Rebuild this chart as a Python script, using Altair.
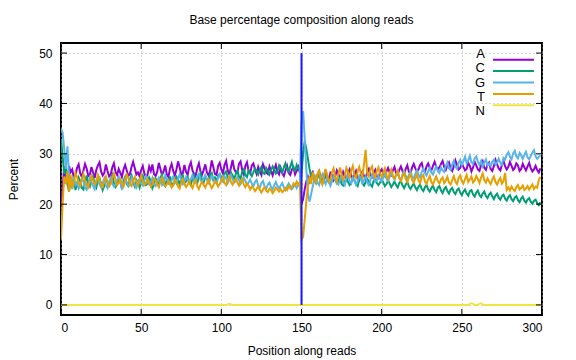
import altair as alt
import pandas as pd

bases = ["A", "C", "G", "T", "N"]
colors = ["#9400d3", "#009e73", "#56b4e9", "#e69f00", "#f0e442"]
x_ticks = [0, 50, 100, 150, 200, 250, 300]
y_ticks = [0, 10, 20, 30, 40, 50]
read_break = [150]
break_lo = [0]
break_hi = [50]

A = [
    20.0, 23.0, 27.5, 25.0, 24.0, 27.6, 26.4, 26.9, 25.3, 25.8,
    27.2, 27.9, 26.1, 25.4, 26.7, 28.0, 27.1, 25.6, 25.9, 27.4,
    26.3, 25.2, 26.8, 27.7, 28.3, 26.5, 25.7, 26.2, 27.9, 26.6,
    25.5, 25.9, 27.3, 28.1, 26.4, 25.8, 27.0, 26.2, 25.4, 26.9,
    27.8, 26.7, 25.6, 26.0, 27.4, 28.4, 27.2, 25.9, 26.3, 25.5,
    26.8, 27.6, 26.1, 25.3, 25.9, 27.5, 26.6, 27.9, 26.0, 25.6,
    26.4, 28.2, 27.0, 25.8, 26.5, 27.7, 25.9, 25.4, 27.1, 28.0,
    26.6, 25.7, 26.9, 28.5, 27.3, 25.9, 26.2, 27.8, 26.4, 25.8,
    27.5, 28.3, 26.7, 26.0, 25.6, 27.2, 28.1, 26.5, 25.9, 26.8,
    27.9, 26.3, 25.7, 26.6, 28.7, 27.4, 26.0, 25.8, 27.6, 28.2,
    26.9, 26.1, 27.8, 28.6, 26.7, 25.9, 27.3, 28.8, 27.0, 26.4,
    26.2, 28.0, 28.5, 26.8, 25.9, 27.6, 28.3, 26.6, 26.1, 27.7,
    28.1, 26.9, 26.0, 27.4, 26.5, 25.8, 27.9, 27.1, 26.3, 26.0,
    27.5, 26.6, 25.7, 26.9, 27.8, 26.4, 25.9, 27.2, 26.1, 25.6,
    26.7, 27.6, 26.2, 25.8, 26.9, 27.3, 25.9, 26.6, 27.4, 26.2,
    20.0, 21.0, 23.0, 24.5, 25.5, 24.6, 25.9, 26.4, 25.1, 24.8,
    25.7, 26.5, 25.3, 24.7, 25.6, 26.8, 25.4, 24.9, 26.2, 25.8,
    24.8, 25.5, 26.7, 26.0, 25.2, 25.0, 26.4, 25.6, 24.9, 26.1,
    26.9, 25.7, 25.1, 25.8, 26.6, 25.3, 24.8, 25.9, 26.5, 25.6,
    25.0, 26.3, 27.0, 25.9, 25.4, 26.2, 26.8, 25.5, 25.2, 26.4,
    26.9, 26.1, 25.6, 26.5, 27.2, 26.3, 25.8, 26.7, 27.4, 26.2,
    25.9, 26.8, 27.5, 26.6, 26.1, 27.0, 27.7, 26.4, 26.2, 27.3,
    28.0, 27.1, 26.5, 26.9, 27.8, 28.2, 26.8, 26.4, 27.5, 28.1,
    27.2, 26.7, 27.6, 28.4, 27.5, 26.9, 27.3, 28.0, 28.6, 27.4,
    26.8, 27.7, 28.3, 27.1, 26.6, 27.5, 28.7, 27.8, 26.9, 27.2,
    28.1, 27.4, 26.7, 27.0, 28.2, 27.6, 26.5, 27.3, 28.4, 27.7,
    26.9, 26.6, 27.8, 28.5, 27.2, 26.8, 27.9, 28.3, 27.0, 26.6,
    27.6, 28.8, 27.9, 27.1, 26.7, 27.8, 28.6, 27.5, 26.9, 27.4,
    28.4, 27.6, 26.8, 27.2, 28.1, 27.7, 26.6, 27.0, 28.0, 27.3,
    26.7, 27.5, 28.2, 27.1, 26.5, 26.9, 27.6, 26.8, 26.3, 27.1,
]

C = [
    33.0, 29.5, 26.0, 27.5, 24.0, 22.5, 24.8, 23.2, 25.5, 22.8,
    24.1, 25.3, 24.6, 23.2, 22.9, 24.4, 25.7, 24.0, 23.5, 24.8,
    25.5, 23.9, 23.3, 24.7, 25.2, 24.1, 22.8, 23.6, 25.0, 24.3,
    23.7, 24.9, 25.8, 24.2, 23.4, 23.9, 25.1, 24.5, 23.0, 24.6,
    25.4, 24.0, 23.6, 25.0, 25.7, 24.3, 23.5, 24.8, 24.2, 23.3,
    24.7, 25.6, 24.4, 23.8, 24.1, 25.3, 24.6, 23.2, 24.0, 25.1,
    24.5, 23.7, 25.2, 25.9, 24.0, 23.6, 24.9, 24.3, 25.5, 24.1,
    23.8, 24.6, 25.4, 24.8, 23.9, 25.0, 25.7, 24.2, 24.5, 25.3,
    24.4, 23.9, 25.1, 25.8, 24.6, 24.2, 25.5, 26.1, 24.7, 24.3,
    25.6, 25.0, 24.4, 25.9, 26.2, 24.8, 25.3, 24.5, 25.7, 26.0,
    25.4, 24.9, 26.1, 26.5, 25.2, 25.0, 26.3, 25.7, 24.9, 26.0,
    26.6, 25.5, 25.1, 26.4, 26.9, 25.8, 25.4, 26.7, 26.2, 25.6,
    26.3, 27.1, 26.5, 25.9, 26.8, 27.4, 26.2, 26.0, 27.2, 26.6,
    25.9, 26.7, 27.5, 26.9, 26.1, 26.5, 27.7, 27.0, 26.3, 27.3,
    28.1, 26.9, 26.4, 27.5, 28.4, 27.0, 26.6, 27.8, 27.1, 26.7,
    26.0, 30.0, 32.5, 31.0, 29.0, 27.0, 25.5, 25.9, 24.6, 24.2,
    25.3, 25.8, 24.7, 24.1, 24.9, 25.6, 25.0, 24.3, 23.9, 24.8,
    25.5, 24.9, 24.2, 24.6, 25.3, 24.0, 23.7, 24.5, 25.1, 24.4,
    23.8, 24.3, 25.2, 24.7, 24.0, 23.6, 24.9, 25.4, 24.1, 23.7,
    24.4, 25.0, 24.5, 23.9, 23.5, 24.6, 25.1, 24.2, 23.8, 24.3,
    24.9, 24.3, 23.6, 24.0, 24.7, 24.1, 23.4, 23.9, 24.5, 23.8,
    23.3, 24.2, 24.6, 23.7, 23.2, 23.9, 24.4, 23.5, 23.0, 23.6,
    24.1, 23.3, 22.8, 23.5, 23.9, 23.0, 22.6, 23.4, 23.8, 22.9,
    22.5, 23.2, 23.7, 22.8, 22.4, 23.3, 23.6, 22.7, 22.2, 23.0,
    23.4, 22.6, 22.1, 22.9, 23.2, 22.4, 22.0, 22.8, 23.1, 22.3,
    21.8, 22.5, 22.9, 22.1, 21.7, 22.6, 22.8, 21.9, 21.5, 22.3,
    22.7, 21.8, 21.4, 22.1, 22.5, 21.6, 21.2, 21.9, 22.3, 21.5,
    21.0, 21.7, 22.1, 21.3, 20.9, 21.6, 21.9, 21.1, 20.7, 21.4,
    21.8, 21.0, 20.6, 21.3, 21.6, 20.8, 20.4, 21.1, 21.5, 20.7,
    20.3, 20.9, 21.2, 20.5, 20.1, 20.7, 20.9, 20.2, 19.8, 20.4,
]

G = [
    35.0, 34.2, 31.0, 27.0, 31.5, 26.0, 24.5, 23.0, 25.4, 23.8,
    24.2, 23.1, 23.8, 25.0, 24.6, 23.3, 22.9, 24.1, 25.3, 24.4,
    23.6, 23.0, 24.7, 25.4, 24.0, 23.4, 24.2, 25.1, 23.8, 23.2,
    24.5, 25.2, 24.1, 23.5, 23.9, 24.8, 25.5, 24.3, 23.1, 23.7,
    24.9, 24.4, 23.6, 24.0, 25.3, 24.7, 23.8, 23.3, 24.6, 25.0,
    24.1, 23.7, 24.8, 25.6, 24.5, 23.9, 24.3, 25.2, 24.0, 23.6,
    24.4, 25.3, 24.9, 23.8, 24.2, 25.7, 25.0, 24.3, 23.9, 24.8,
    25.5, 24.6, 24.1, 25.2, 25.9, 24.7, 24.0, 24.5, 25.4, 24.9,
    24.2, 25.0, 25.8, 24.6, 24.3, 25.5, 26.0, 24.8, 24.4, 25.1,
    25.7, 24.9, 24.3, 24.8, 25.6, 25.2, 24.5, 24.1, 25.3, 25.9,
    24.7, 24.4, 25.5, 25.1, 24.2, 24.9, 25.8, 25.0, 24.3, 24.6,
    25.4, 24.8, 24.0, 24.5, 25.2, 24.6, 23.9, 24.3, 24.9, 24.1,
    23.6, 24.4, 24.8, 23.7, 23.3, 24.2, 24.6, 23.5, 23.0, 23.9,
    24.3, 23.4, 22.9, 23.8, 24.4, 23.6, 23.1, 23.7, 24.2, 23.3,
    22.8, 23.5, 24.1, 23.6, 23.0, 23.4, 24.0, 23.2, 23.8, 24.4,
    36.0, 38.5, 33.0, 27.0, 22.0, 20.5, 22.0, 23.5, 24.9, 25.6,
    24.3, 23.8, 25.1, 25.9, 24.6, 24.0, 25.4, 24.8, 23.7, 24.5,
    25.6, 25.0, 24.2, 23.9, 24.8, 25.7, 24.4, 23.8, 25.2, 25.9,
    24.6, 24.1, 25.3, 24.7, 23.9, 24.5, 25.6, 25.1, 24.2, 24.8,
    25.5, 24.3, 23.8, 24.9, 25.8, 25.2, 24.4, 24.7, 25.6, 25.0,
    24.5, 25.3, 26.0, 25.1, 24.6, 25.4, 26.2, 25.5, 24.9, 25.7,
    26.4, 25.2, 24.8, 25.9, 26.6, 25.6, 25.0, 25.8, 26.5, 25.4,
    25.1, 26.0, 26.7, 25.8, 25.3, 26.4, 27.1, 26.2, 25.7, 26.5,
    27.2, 26.3, 25.9, 26.8, 27.5, 26.6, 26.2, 27.3, 26.7, 26.4,
    27.6, 28.3, 27.1, 26.8, 27.9, 28.6, 27.4, 27.0, 28.2, 28.8,
    27.8, 28.5, 29.4, 28.1, 28.7, 29.6, 28.3, 28.0, 29.1, 29.5,
    28.4, 27.8, 28.6, 27.5, 28.2, 28.9, 27.7, 28.1, 27.6, 28.4,
    28.8, 27.9, 28.3, 29.0, 28.2, 27.8, 29.2, 28.9, 29.8, 30.3,
    29.4, 28.9, 30.1, 30.6, 29.5, 29.1, 30.2, 29.7, 29.0, 29.8,
    30.4, 29.3, 28.9, 29.6, 30.2, 30.7, 29.5, 29.0, 29.4, 29.7,
]

T = [
    13.0, 20.0, 25.5, 24.0, 26.5, 22.5, 25.8, 23.2, 24.5, 26.2,
    25.4, 24.2, 23.6, 24.9, 26.0, 24.7, 23.8, 23.3, 24.5, 25.6,
    24.8, 23.9, 24.3, 25.8, 25.1, 23.7, 23.4, 24.6, 25.5, 24.4,
    23.6, 24.0, 25.3, 26.1, 24.9, 23.8, 24.2, 25.0, 24.1, 23.5,
    24.7, 25.9, 25.2, 23.9, 23.6, 24.8, 25.4, 24.3, 23.7, 24.5,
    25.7, 24.6, 23.8, 24.1, 25.0, 24.4, 23.5, 23.9, 25.1, 24.8,
    24.0, 23.4, 24.6, 25.3, 24.2, 23.6, 23.9, 24.7, 24.1, 23.3,
    23.8, 24.9, 24.4, 23.5, 23.1, 24.3, 25.0, 24.0, 23.4, 23.9,
    24.6, 23.7, 23.2, 24.2, 24.8, 23.6, 23.0, 23.9, 24.5, 23.8,
    23.3, 24.1, 24.9, 23.9, 23.2, 23.7, 24.6, 24.3, 23.5, 24.0,
    24.7, 25.3, 24.2, 23.8, 24.9, 25.5, 24.4, 23.9, 24.6, 25.1,
    24.3, 23.7, 24.5, 25.0, 23.9, 23.4, 24.1, 23.6, 22.9, 23.5,
    23.2, 22.6, 23.0, 23.6, 22.8, 22.3, 22.9, 23.4, 22.7, 22.4,
    23.1, 22.8, 22.2, 22.6, 23.3, 22.9, 22.5, 23.0, 22.4, 22.7,
    23.2, 22.8, 23.6, 23.1, 23.4, 24.1, 23.7, 24.5, 23.9, 24.3,
    13.0, 13.5, 17.0, 20.5, 23.5, 25.5, 24.0, 26.4, 25.2, 24.3,
    25.9, 26.8, 24.6, 23.9, 25.5, 27.0, 25.8, 24.4, 24.9, 26.3,
    27.1, 25.4, 24.5, 26.0, 27.3, 25.9, 24.8, 25.6, 27.2, 26.4,
    25.1, 26.7, 27.6, 25.8, 25.2, 26.5, 27.4, 26.1, 25.4, 28.0,
    30.8, 26.2, 25.5, 26.9, 27.5, 25.9, 25.3, 26.6, 27.3, 26.0,
    25.4, 26.3, 27.1, 25.7, 25.0, 26.2, 26.9, 25.6, 25.1, 25.8,
    26.6, 25.2, 24.6, 25.5, 26.3, 25.0, 24.4, 25.3, 26.0, 24.8,
    24.3, 25.1, 25.9, 24.7, 24.2, 25.4, 25.8, 24.5, 24.0, 24.9,
    25.6, 24.4, 23.9, 24.8, 25.5, 24.6, 24.1, 24.9, 25.3, 24.2,
    24.7, 25.4, 24.3, 23.9, 24.8, 25.6, 24.5, 24.0, 25.2, 25.7,
    24.6, 24.1, 25.0, 25.8, 24.4, 24.9, 25.5, 24.3, 24.7, 25.6,
    25.0, 24.2, 25.3, 26.1, 24.8, 24.3, 25.1, 24.5, 24.0, 24.9,
    25.5, 24.4, 23.9, 24.7, 25.2, 24.1, 24.6, 26.2, 22.8, 23.3,
    22.7, 23.5, 23.0, 22.6, 23.4, 23.8, 22.9, 23.2, 23.7, 22.8,
    23.1, 23.6, 22.9, 23.4, 23.9, 23.0, 23.5, 23.3, 24.8, 25.4,
]

N = [
    0, 0, 0, 0, 0, 0, 0, 0, 0, 0, 0, 0, 0, 0, 0, 0, 0, 0, 0, 0,
    0, 0, 0, 0, 0, 0, 0, 0, 0, 0, 0, 0, 0, 0, 0, 0, 0, 0, 0, 0,
    0, 0, 0, 0, 0, 0, 0, 0, 0, 0, 0, 0, 0, 0, 0, 0, 0, 0, 0, 0,
    0, 0, 0, 0, 0, 0, 0, 0, 0, 0, 0, 0, 0, 0, 0, 0, 0, 0, 0, 0,
    0, 0, 0, 0, 0, 0, 0, 0, 0, 0, 0, 0, 0, 0, 0, 0, 0, 0, 0, 0,
    0, 0, 0, 0, 0.1, 0.2, 0.1, 0, 0, 0, 0, 0, 0, 0, 0, 0, 0, 0, 0, 0,
    0, 0, 0, 0, 0, 0, 0, 0, 0, 0, 0, 0, 0, 0, 0, 0, 0, 0, 0, 0,
    0, 0, 0, 0, 0, 0, 0, 0, 0, 0, 0, 0, 0, 0, 0, 0, 0, 0, 0, 0,
    0, 0, 0, 0, 0, 0, 0, 0, 0, 0, 0, 0, 0, 0, 0, 0, 0, 0, 0, 0,
    0, 0, 0, 0, 0, 0, 0, 0, 0, 0, 0, 0, 0, 0, 0, 0, 0, 0, 0, 0,
    0, 0, 0, 0, 0, 0, 0, 0, 0, 0, 0, 0, 0, 0, 0, 0, 0, 0, 0, 0,
    0, 0, 0, 0, 0, 0, 0, 0, 0, 0, 0, 0, 0, 0, 0, 0, 0, 0, 0, 0,
    0, 0, 0, 0, 0, 0, 0, 0, 0, 0, 0, 0, 0, 0, 0, 0.2, 0.3, 0.2, 0, 0,
    0, 0.2, 0.3, 0.1, 0, 0, 0, 0, 0, 0, 0, 0, 0, 0, 0, 0, 0, 0, 0, 0,
    0, 0, 0, 0, 0, 0, 0, 0, 0, 0, 0, 0, 0, 0, 0, 0, 0, 0, 0, 0,
]

positions = list(range(len(A)))
series = {"A": A, "C": C, "G": G, "T": T, "N": N}
rows = []
for b in bases:
    for p, v in zip(positions, series[b]):
        rows.append({"pos": p, "base": b, "pct": v})
df = pd.DataFrame(rows)

W, H = 481, 272
FONT = "Liberation Sans"
xscale = alt.Scale(domain=[0, 300], nice=False, zero=False)
yscale = alt.Scale(domain=[-2, 52], nice=False, zero=False)
cscale = alt.Scale(domain=bases, range=colors)

lines = alt.Chart(df).mark_line(strokeWidth=2, clip=True).encode(
    x=alt.X("pos:Q", scale=xscale,
            axis=alt.Axis(values=x_ticks, title="Position along reads", grid=True,
                          tickSize=0, domain=False, labelPadding=7,
                          titleY=35, titleBaseline="middle")),
    y=alt.Y("pct:Q", scale=yscale,
            axis=alt.Axis(values=y_ticks, title="Percent", grid=True, tickSize=0,
                          domain=False, labelPadding=9, titleAngle=270,
                          titleX=-48, titleY=H / 2, titleAlign="center",
                          titleBaseline="middle")),
    color=alt.Color("base:N", scale=cscale, legend=None),
    detail="base:N",
)

sep_df = pd.DataFrame({"pos": read_break, "lo": break_lo, "hi": break_hi})
sep = alt.Chart(sep_df).mark_rule(color="#1a1aff", strokeWidth=2).encode(
    x=alt.X("pos:Q", scale=xscale),
    y=alt.Y("lo:Q", scale=yscale, axis=None),
    y2="hi:Q",
)

xt = pd.DataFrame({"v": x_ticks})
yt = pd.DataFrame({"v": y_ticks})
tick_style = dict(color="black", strokeWidth=1)
xt_bottom = alt.Chart(xt).mark_rule(**tick_style).encode(
    x=alt.X("v:Q", scale=xscale), y=alt.value(H), y2=alt.value(H - 6))
xt_top = alt.Chart(xt).mark_rule(**tick_style).encode(
    x=alt.X("v:Q", scale=xscale), y=alt.value(0), y2=alt.value(6))
yt_left = alt.Chart(yt).mark_rule(**tick_style).encode(
    y=alt.Y("v:Q", scale=yscale, axis=None), x=alt.value(0), x2=alt.value(6))
yt_right = alt.Chart(yt).mark_rule(**tick_style).encode(
    y=alt.Y("v:Q", scale=yscale, axis=None), x=alt.value(W), x2=alt.value(W - 6))

leg_df = pd.DataFrame({"base": bases})
leg_y = alt.Y("base:N", sort=bases, scale=alt.Scale(range=[11, 68], padding=0), axis=None)
leg_lines = alt.Chart(leg_df).mark_rule(strokeWidth=2).encode(
    y=leg_y, x=alt.value(432), x2=alt.value(473),
    color=alt.Color("base:N", scale=cscale, legend=None))
leg_text = alt.Chart(leg_df).mark_text(align="right", baseline="middle", font=FONT,
                                        fontSize=13, color="black").encode(
    y=leg_y, x=alt.value(424), text="base:N")

chart = alt.layer(
    lines, sep, xt_bottom, xt_top, yt_left, yt_right, leg_lines, leg_text
).resolve_scale(y="independent").properties(
    width=W, height=H,
    title=alt.TitleParams("Base percentage composition along reads", font=FONT,
                          fontSize=12, fontWeight="normal", anchor="middle", offset=16,
                          color="black"),
    padding={"left": 61, "top": 43, "right": 34, "bottom": 45},
    autosize=alt.AutoSizeParams(type="none"),
).configure_axis(
    labelFont=FONT, labelFontSize=12, labelColor="black",
    titleFont=FONT, titleFontSize=12, titleColor="black", titleFontWeight="normal",
    gridColor="#b0b0b0", gridDash=[1, 3], gridWidth=1,
).configure_view(stroke="black", strokeWidth=2)

chart.save("out.html", embed_options={"renderer": "svg", "actions": False})
